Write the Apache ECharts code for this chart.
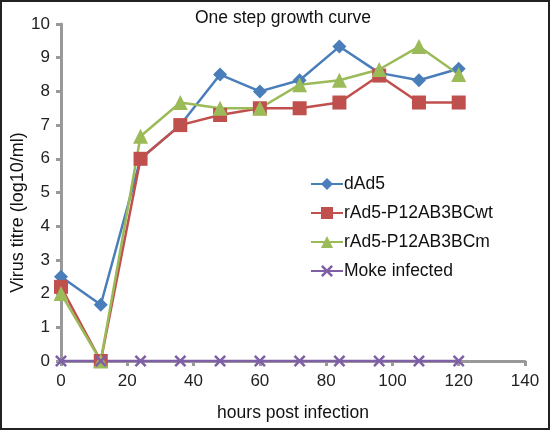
<!DOCTYPE html>
<html><head><meta charset="utf-8">
<script src="https://cdn.jsdelivr.net/npm/echarts@6/dist/echarts.min.js"></script>
<style>
html,body{margin:0;padding:0;background:#fff;}
#wrap{position:absolute;left:0;top:0;width:546px;height:426px;border:2px solid #222;}
#chart{position:absolute;left:-2px;top:-2px;width:550px;height:430px;}
</style></head>
<body><div id="wrap"><div id="chart"></div></div>
<script>
var hours = [0, 12, 24, 36, 48, 60, 72, 84, 96, 108, 120];
var seriesNames = ['dAd5', 'rAd5-P12AB3BCwt', 'rAd5-P12AB3BCm', 'Moke infected'];
var dAd5 = [2.5, 1.67, 6, 7, 8.5, 8, 8.33, 9.33, 8.55, 8.33, 8.67];
var rAd5wt = [2.2, 0, 6, 7, 7.3, 7.5, 7.5, 7.67, 8.47, 7.67, 7.67];
var rAd5m = [2, 0, 6.67, 7.67, 7.5, 7.5, 8.2, 8.33, 8.65, 9.33, 8.5];
var moke = [0, 0, 0, 0, 0, 0, 0, 0, 0, 0, 0];
var colors = ['#4A7EBB', '#C0504D', '#9BBB59', '#7F5FA5'];
var xPath = 'path://M0,1.5 L1.5,0 L5,3.5 L8.5,0 L10,1.5 L6.5,5 L10,8.5 L8.5,10 L5,6.5 L1.5,10 L0,8.5 L3.5,5 Z';
var symbols = ['diamond', 'rect', 'triangle', xPath];
var sizes = [14, 14, 15, 12];
var values = [dAd5, rAd5wt, rAd5m, moke];

function pairs(v){ return hours.map(function(h,i){ return [h, v[i]]; }); }
var FF = 'Liberation Sans';

var chart = echarts.init(document.getElementById('chart'));
chart.setOption({
  animation: false,
  color: colors,
  title: { text: 'One step growth curve', left: 278, textAlign: 'center', top: 4,
    textStyle: { fontFamily: FF, fontSize: 17.5, fontWeight: 'normal', color: '#111' } },
  grid: { left: 61, right: 25, top: 24, bottom: 69, containLabel: false, outerBoundsMode: 'none' },
  legend: {
    orient: 'vertical', left: 305, top: 170, itemWidth: 32, itemHeight: 15, itemGap: 11,
    textStyle: { fontFamily: FF, fontSize: 17.5, color: '#111', padding: [0,0,0,-4] },
    data: seriesNames
  },
  xAxis: {
    type: 'value', min: 0, max: 140, interval: 20,
    name: 'hours post infection', nameLocation: 'middle', nameGap: 43, nameMoveOverlap: false,
    nameTextStyle: { fontFamily: FF, fontSize: 17.5, color: '#111' },
    axisLine: { lineStyle: { color: '#999', width: 3 } },
    axisTick: { show: true, length: 5, lineStyle: { color: '#999', width: 3 } },
    axisLabel: { fontFamily: FF, fontSize: 17, color: '#222', margin: 12 },
    splitLine: { show: false }
  },
  yAxis: {
    type: 'value', min: 0, max: 10, interval: 1,
    name: 'Virus titre (log10/ml)', nameLocation: 'middle', nameGap: 34, nameMoveOverlap: false,
    nameTextStyle: { fontFamily: FF, fontSize: 18, color: '#111', padding: [0, 40, 0, 0] },
    axisLine: { show: true, lineStyle: { color: '#999', width: 3 } },
    axisTick: { show: true, length: 5, lineStyle: { color: '#999', width: 3 } },
    axisLabel: { fontFamily: FF, fontSize: 17, color: '#222', margin: 11 },
    splitLine: { show: false }
  },
  series: seriesNames.map(function(n, i){
    return {
      name: n, type: 'line', data: pairs(values[i]),
      symbol: symbols[i], symbolSize: sizes[i], showSymbol: true,
      lineStyle: { width: 2.5, color: colors[i] },
      itemStyle: { color: colors[i] }
    };
  })
});
</script></body></html>
